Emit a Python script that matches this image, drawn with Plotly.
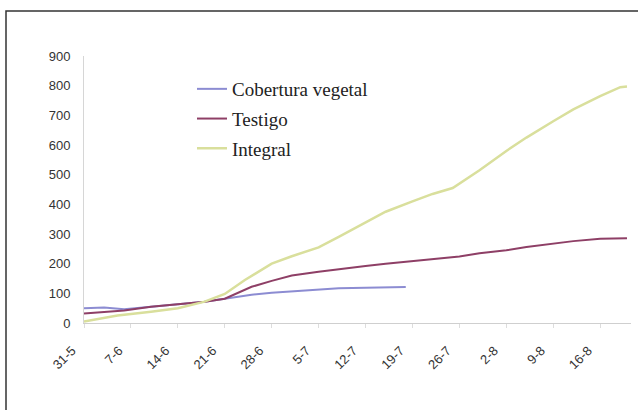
import plotly.graph_objects as go

tick_labels = ["31-5", "7-6", "14-6", "21-6", "28-6", "5-7", "12-7", "19-7", "26-7", "2-8", "9-8", "16-8"]
tick_days = [0, 7, 14, 21, 28, 35, 42, 49, 56, 63, 70, 77]

cob_days = [0, 3, 6, 10, 14, 18, 21, 25, 28, 31, 35, 38, 42, 45, 48]
cob_vals = [50, 52, 46, 55, 62, 72, 82, 95, 102, 107, 114, 117, 119, 120, 121]

tes_days = [0, 3, 6, 10, 14, 18, 21, 25, 28, 31, 35, 38, 42, 45, 49, 52, 56, 59, 63, 66, 70, 73, 77, 81]
tes_vals = [32, 36, 42, 55, 63, 72, 82, 122, 142, 160, 173, 182, 192, 200, 208, 214, 224, 235, 245, 256, 268, 276, 284, 286]

int_days = [0, 5, 10, 14, 18, 21, 24, 28, 31, 35, 38, 42, 45, 49, 52, 55, 59, 63, 66, 70, 73, 77, 80, 81]
int_vals = [5, 25, 38, 50, 72, 98, 145, 200, 225, 255, 290, 340, 375, 410, 435, 455, 515, 580, 625, 680, 720, 765, 795, 797]

series = [
    ("Cobertura vegetal", cob_days, cob_vals, "#8c8cd2", 2),
    ("Testigo", tes_days, tes_vals, "#8e3f66", 2),
    ("Integral", int_days, int_vals, "#d9df9c", 2.5),
]

fig = go.Figure()
for i, (name, xs, ys, col, w) in enumerate(series):
    fig.add_trace(go.Scatter(x=xs, y=ys, name=name, mode="lines",
                             line=dict(color=col, width=w), legendgroup=str(i)))

W, H = 638, 410
L, R, T, B = 84, 7, 56, 87
pw = W - L - R
ph = H - T - B

fig.update_layout(
    width=W, height=H,
    margin=dict(l=L, r=R, t=T, b=B, autoexpand=False),
    paper_bgcolor="white", plot_bgcolor="white",
    showlegend=True,
    legend=dict(
        x=(192 - L) / pw, y=(T + ph - 70) / ph, xanchor="left", yanchor="top",
        font=dict(family="Liberation Serif", size=19, color="#222"),
        bgcolor="rgba(0,0,0,0)", tracegroupgap=2,
    ),
    font=dict(family="Liberation Sans", size=13, color="#333"),
)
fig.update_xaxes(
    range=[0, 81.6], tickvals=tick_days, ticktext=tick_labels, tickangle=-45,
    showgrid=False, zeroline=False, showline=True, linecolor="#cfcfcf", linewidth=1,
    ticks="outside", ticklen=4, tickcolor="#dddddd",
    ticklabelshift=-12, ticklabelstandoff=10,
    tickfont=dict(family="Liberation Sans", size=13, color="#333"),
)
fig.update_yaxes(
    range=[0, 900], tickvals=[0, 100, 200, 300, 400, 500, 600, 700, 800, 900],
    showgrid=False, zeroline=False, showline=True, linecolor="#d6d6d6", linewidth=1,
    ticks="", ticklabelstandoff=10,
    tickfont=dict(family="Liberation Sans", size=13, color="#333"),
)

# outer frame (left and top edges visible)
fig.add_shape(type="rect", xref="paper", yref="paper",
              x0=(6 - L) / pw, x1=(641 - L) / pw,
              y0=(T + ph - 413) / ph, y1=(T + ph - 11) / ph,
              line=dict(color="#333", width=1.5), layer="below")

fig.write_html("out.html", config={"displayModeBar": False},
               post_script="document.body.style.margin='0';")
